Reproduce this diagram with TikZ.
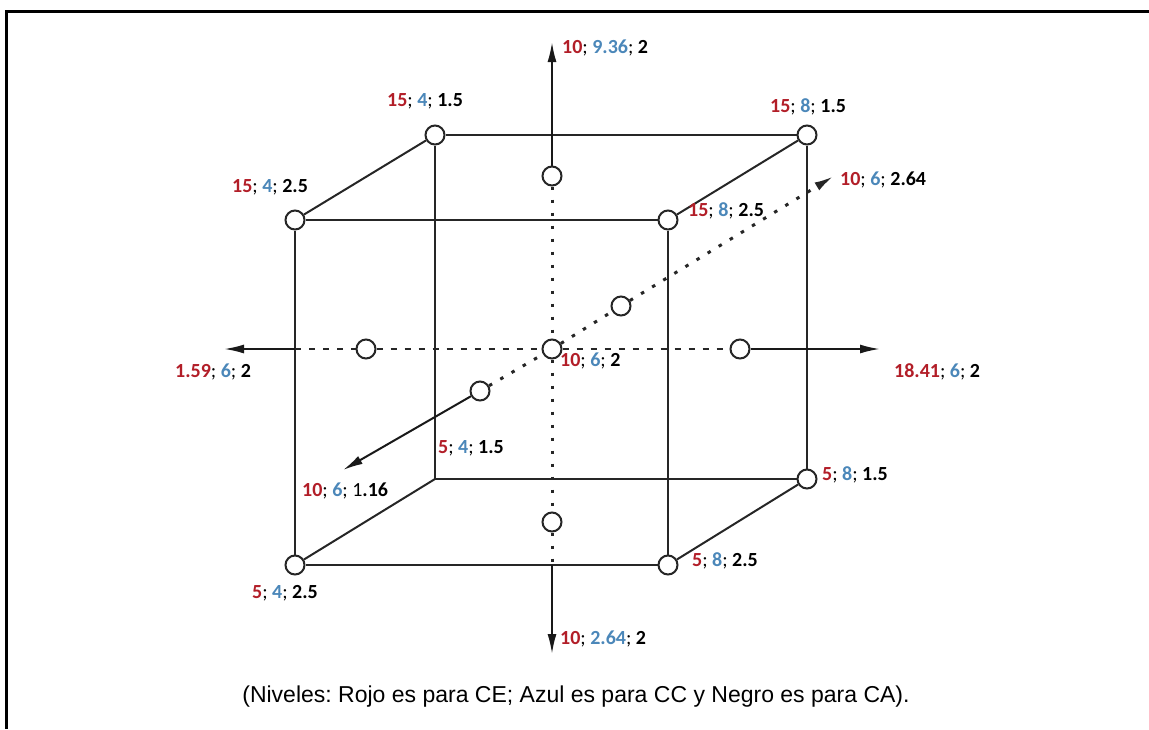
\documentclass[tikz,border=0pt]{standalone}
\usepackage{fontspec}
\setmainfont{Carlito}
\newfontfamily\capfont{Liberation Sans}
\usetikzlibrary{arrows.meta}
\pgfdeclarelayer{bg}
\pgfsetlayers{bg,main}
\definecolor{lvred}{RGB}{178,30,40}
\definecolor{lvblue}{RGB}{75,135,185}
\frenchspacing
% level triple: CE (red); CC (blue); CA (black)
\newcommand{\lvl}[3]{\textbf{\textcolor{lvred}{#1}}; \textbf{\textcolor{lvblue}{#2}}; \textbf{#3}}

\begin{document}
\begin{tikzpicture}[x=1pt,y=-1pt,
  edge/.style={line width=2pt, draw=black!85},
  pt/.style={circle, draw=black!85, line width=2pt, fill=white, minimum size=19pt, inner sep=0pt},
  axis/.style={line width=2pt, draw=black!90, -{Latex[length=20pt,width=9pt]}},
  dots/.style={line width=3pt, draw=black!85, dash pattern=on 3.5pt off 9.5pt},
  hdots/.style={line width=2.6pt, draw=black!85, dash pattern=on 6pt off 8pt},
  lab/.style={font=\fontsize{20}{23}\selectfont, inner sep=0pt, anchor=west}]

\useasboundingbox (0,0) rectangle (1149,729);
\draw[line width=3pt] (1149,11) -- (6,11) -- (6,729);

% cube corners
\node[pt] (ftl) at (295,220) {};
\node[pt] (ftr) at (668,220) {};
\node[pt] (fbl) at (295,565) {};
\node[pt] (fbr) at (668,565) {};
\node[pt] (btl) at (435,135) {};
\node[pt] (btr) at (807,135) {};
\coordinate (bbl) at (435,479);
\node[pt] (bbr) at (807,479) {};

% axial and centre points
\node[pt] (top) at (552,176) {};
\node[pt] (bot) at (552,522) {};
\node[pt] (lft) at (366,349) {};
\node[pt] (rgt) at (740,349) {};
\node[pt] (frn) at (480,391) {};
\node[pt] (bck) at (621,306) {};
\node[pt] (cen) at (552,349) {};

% axis ends
\coordinate (topTip) at (552,42);
\coordinate (botEdge) at (552,565);
\coordinate (botTip) at (552,654);
\coordinate (lftEdge) at (295,349);
\coordinate (lftTip) at (224,349);
\coordinate (rgtTip) at (880,349);
\coordinate (frnTip) at (343,470);
\coordinate (bckTip) at (834,176);

\begin{pgfonlayer}{bg}
  % cube edges: front face
  \draw[edge] (ftl) -- (ftr);
  \draw[edge] (ftr) -- (fbr);
  \draw[edge] (fbr) -- (fbl);
  \draw[edge] (fbl) -- (ftl);
  % back face
  \draw[edge] (btl) -- (btr);
  \draw[edge] (btr) -- (bbr);
  \draw[edge] (bbr) -- (bbl);
  \draw[edge] (bbl) -- (btl);
  % depth edges
  \draw[edge] (ftl) -- (btl);
  \draw[edge] (ftr) -- (btr);
  \draw[edge] (fbr) -- (bbr);
  \draw[edge] (fbl) -- (bbl);
  % hidden axes
  \draw[dots] (top) -- (cen) -- (bot) -- (botEdge);
  \draw[hdots] (lftEdge) -- (lft) -- (cen) -- (rgt);
  \draw[dots] (frn) -- (cen) -- (bck);
  \draw[dots, -{Latex[length=20pt,width=9pt]}] (bck) -- (bckTip);
  % axial arrows
  \draw[axis] (top) -- (topTip);
  \draw[axis] (botEdge) -- (botTip);
  \draw[axis] (lftEdge) -- (lftTip);
  \draw[axis] (rgt) -- (rgtTip);
  \draw[axis] (frn) -- (frnTip);
\end{pgfonlayer}

% level labels
\node[lab] (l1) at (387,101) {\lvl{15}{4}{1.5}};
\node[lab] (l2) at (770,107) {\lvl{15}{8}{1.5}};
\node[lab] (l3) at (232,187) {\lvl{15}{4}{2.5}};
\node[lab] (l4) at (688,211) {\lvl{15}{8}{2.5}};
\node[lab] (l5) at (562,48) {\lvl{10}{9.36}{2}};
\node[lab] (l6) at (840,180) {\lvl{10}{6}{2.64}};
\node[lab] (l7) at (175,372) {\lvl{1.59}{6}{2}};
\node[lab] (l8) at (560,361) {\lvl{10}{6}{2}};
\node[lab] (l9) at (894,372) {\lvl{18.41}{6}{2}};
\node[lab] (l10) at (438,448) {\lvl{5}{4}{1.5}};
\node[lab] (l11) at (302,491) {\lvl{10}{6}{{\mdseries 1}.16}};
\node[lab] (l12) at (822,475) {\lvl{5}{8}{1.5}};
\node[lab] (l13) at (692,561) {\lvl{5}{8}{2.5}};
\node[lab] (l14) at (252,593) {\lvl{5}{4}{2.5}};
\node[lab] (l15) at (560,639) {\lvl{10}{2.64}{2}};

% caption
\node[font=\capfont\fontsize{23}{26}\selectfont, inner sep=0pt] (cap) at (576,697)
  {(Niveles: Rojo es para CE; Azul es para CC y Negro es para CA).};
\end{tikzpicture}
\end{document}
